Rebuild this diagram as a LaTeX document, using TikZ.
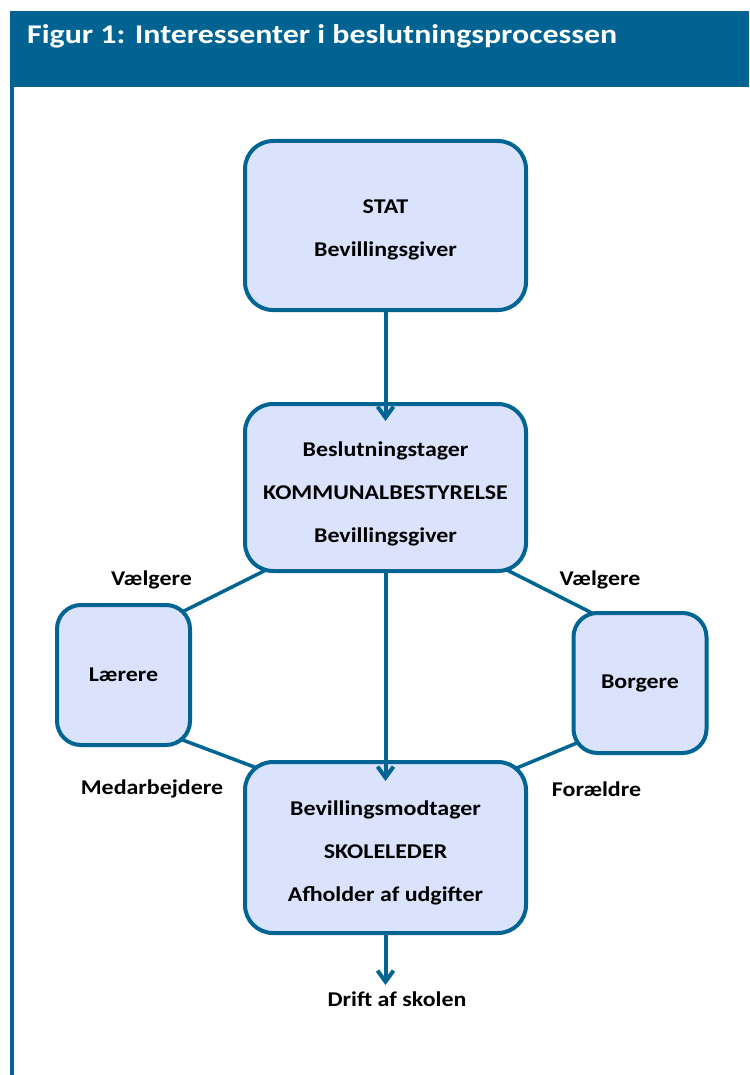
\documentclass[tikz,border=0pt]{standalone}
\usepackage{fontspec}
\setmainfont{Carlito}[FakeStretch=1.14]
\newfontfamily\titlefont{Carlito}[FakeStretch=1.18]
\usetikzlibrary{arrows.meta,backgrounds,calc}
\definecolor{hdrblue}{RGB}{0,99,145}
\definecolor{lineblue}{RGB}{0,101,146}
\definecolor{boxfill}{RGB}{219,226,252}
\begin{document}
\begin{tikzpicture}[x=1pt,y=-1pt,
  box/.style={draw=lineblue,line width=4pt,fill=boxfill,rounded corners=28pt,inner sep=0pt},
  smallbox/.style={box,rounded corners=24pt,font=\fontsize{21}{25}\selectfont\bfseries},
  txt/.style={align=center,inner sep=0pt,font=\fontsize{21}{43}\selectfont\bfseries},
  lbl/.style={inner sep=0pt,font=\fontsize{21}{25}\selectfont\bfseries},
  conn/.style={draw=lineblue,line width=3.5pt},
  arr/.style={draw=lineblue,line width=4pt,-{Straight Barb[length=11pt,width=16pt]}}]
\useasboundingbox (0,0) rectangle (749,1075);
% header and left border
\fill[hdrblue] (10,11) rectangle (749,87);
\fill[lineblue] (10,87) rectangle (14,1075);
\node[anchor=base west,text=white,inner sep=0pt,font=\titlefont\fontsize{27}{30}\selectfont\bfseries] (title) at (27,44) {Figur 1: Interessenter i beslutningsprocessen};
% boxes
\node[box,minimum width=281pt,minimum height=169pt] (stat) at (385.5,225.5) {};
\node[txt] (stattxt) at ($(stat.center)+(0,4)$) {STAT\\Bevillingsgiver};
\node[box,minimum width=281pt,minimum height=167pt] (mid) at (385.5,487.5) {};
\node[txt] (midtxt) at ($(mid.center)+(0,6)$) {Beslutningstager\\KOMMUNALBESTYRELSE\\Bevillingsgiver};
\node[box,minimum width=281pt,minimum height=171pt] (bot) at (385.5,847.5) {};
\node[txt] (bottxt) at ($(bot.center)+(0,5)$) {Bevillingsmodtager\\SKOLELEDER\\Afholder af udgifter};
\node[smallbox,minimum width=133pt,minimum height=140pt] (laer) at (123.5,675) {Lærere};
\node[smallbox,minimum width=133pt,minimum height=140pt] (borg) at (640,683) {Borgere};
% labels
\node[lbl] (v1) at (151.5,580) {Vælgere};
\node[lbl] (v2) at (600,580) {Vælgere};
\node[lbl] (med) at (152,789) {Medarbejdere};
\node[lbl] (for) at (596.5,789) {Forældre};
\node[lbl] (drift) at (397,999) {Drift af skolen};
\coordinate (dtip) at (385.5,985);
% connectors behind boxes
\begin{scope}[on background layer]
\fill[white] (0,0) rectangle (749,1075);
\draw[conn] ($(mid.south west)+(35,-9)$) -- ($(laer.north east)+(-20,14)$);
\draw[conn] ($(laer.south east)+(-20,-11)$) -- ($(bot.north west)+(30,14)$);
\draw[conn] ($(mid.south east)+(-31,-8)$) -- ($(borg.north west)+(26.5,5)$);
\draw[conn] ($(borg.south west)+(18.5,-17.5)$) -- ($(bot.north east)+(-28,15)$);
\end{scope}
% arrows
\draw[arr] (stat.south) -- ($(mid.north)+(0,19)$);
\draw[arr] (mid.south) -- ($(bot.north)+(0,21)$);
\draw[arr] (bot.south) -- (dtip);
\end{tikzpicture}
\end{document}
